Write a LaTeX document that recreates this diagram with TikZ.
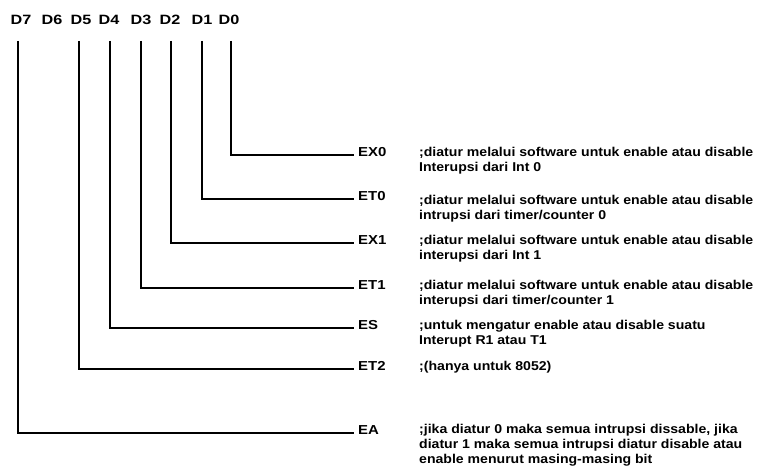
\documentclass[tikz,border=0pt]{standalone}
\usepackage{fontspec}
\setmainfont{Liberation Sans}
\newfontfamily\hdrfont{Liberation Sans}[FakeStretch=1.2]
\newfontfamily\lblfont{Liberation Sans}[FakeStretch=1.15]
\newfontfamily\descfont{Liberation Sans}[FakeStretch=1.1]
\begin{document}
\begin{tikzpicture}[x=1pt,y=-1pt,
  hdr/.style={font=\hdrfont\fontsize{13.5}{16}\selectfont\bfseries, inner sep=0pt, anchor=base},
  lbl/.style={font=\lblfont\fontsize{13}{15}\selectfont\bfseries, anchor=base west, inner sep=0pt},
  desc/.style={font=\descfont\fontsize{12.8}{15}\selectfont\bfseries, anchor=base west, align=left, inner sep=0pt},
  wire/.style={line width=2.2pt}]
\useasboundingbox (0,0) rectangle (761,470);
% header bits
\node[hdr] (D7) at (21,25) {D7};
\node[hdr] (D6) at (52,25) {D6};
\node[hdr] (D5) at (81,25) {D5};
\node[hdr] (D4) at (109,25) {D4};
\node[hdr] (D3) at (141,25) {D3};
\node[hdr] (D2) at (170,25) {D2};
\node[hdr] (D1) at (202,25) {D1};
\node[hdr] (D0) at (229,25) {D0};
% tops of the bit lines
\coordinate (t7) at (18,41);
\coordinate (t5) at (79,41);
\coordinate (t4) at (110,41);
\coordinate (t3) at (141,41);
\coordinate (t2) at (171,41);
\coordinate (t1) at (202,41);
\coordinate (t0) at (231,41);
% labels
\node[lbl] (EX0) at (358,157) {EX0};
\node[lbl] (ET0) at (358,201) {ET0};
\node[lbl] (EX1) at (358,245) {EX1};
\node[lbl] (ET1) at (358,290) {ET1};
\node[lbl] (ES)  at (358,330) {ES};
\node[lbl] (ET2) at (358,371) {ET2};
\node[lbl] (EA)  at (358,435) {EA};
% connectors
\draw[wire] (t0) |- ([xshift=-4pt,yshift=2pt]EX0.base west);
\draw[wire] (t1) |- ([xshift=-4pt,yshift=2pt]ET0.base west);
\draw[wire] (t2) |- ([xshift=-4pt,yshift=2pt]EX1.base west);
\draw[wire] (t3) |- ([xshift=-4pt,yshift=2pt]ET1.base west);
\draw[wire] (t4) |- ([xshift=-4pt,yshift=2pt]ES.base west);
\draw[wire] (t5) |- ([xshift=-4pt,yshift=2pt]ET2.base west);
\draw[wire] (t7) |- ([xshift=-4pt,yshift=2pt]EA.base west);
% descriptions (anchor = baseline of last line)
\node[desc] (dEX0) at (419,172) {;diatur melalui software untuk enable atau disable\\Interupsi dari Int 0};
\node[desc] (dET0) at (419,220) {;diatur melalui software untuk enable atau disable\\intrupsi dari timer/counter 0};
\node[desc] (dEX1) at (419,260) {;diatur melalui software untuk enable atau disable\\interupsi dari Int 1};
\node[desc] (dET1) at (419,305) {;diatur melalui software untuk enable atau disable\\interupsi dari timer/counter 1};
\node[desc] (dES)  at (419,345) {;untuk mengatur enable atau disable suatu\\Interupt R1 atau T1};
\node[desc] (dET2) at (419,371) {;(hanya untuk 8052)};
\node[desc] (dEA)  at (419,464) {;jika diatur 0 maka semua intrupsi dissable, jika\\diatur 1 maka semua intrupsi diatur disable atau\\enable menurut masing-masing bit};
\end{tikzpicture}
\end{document}
